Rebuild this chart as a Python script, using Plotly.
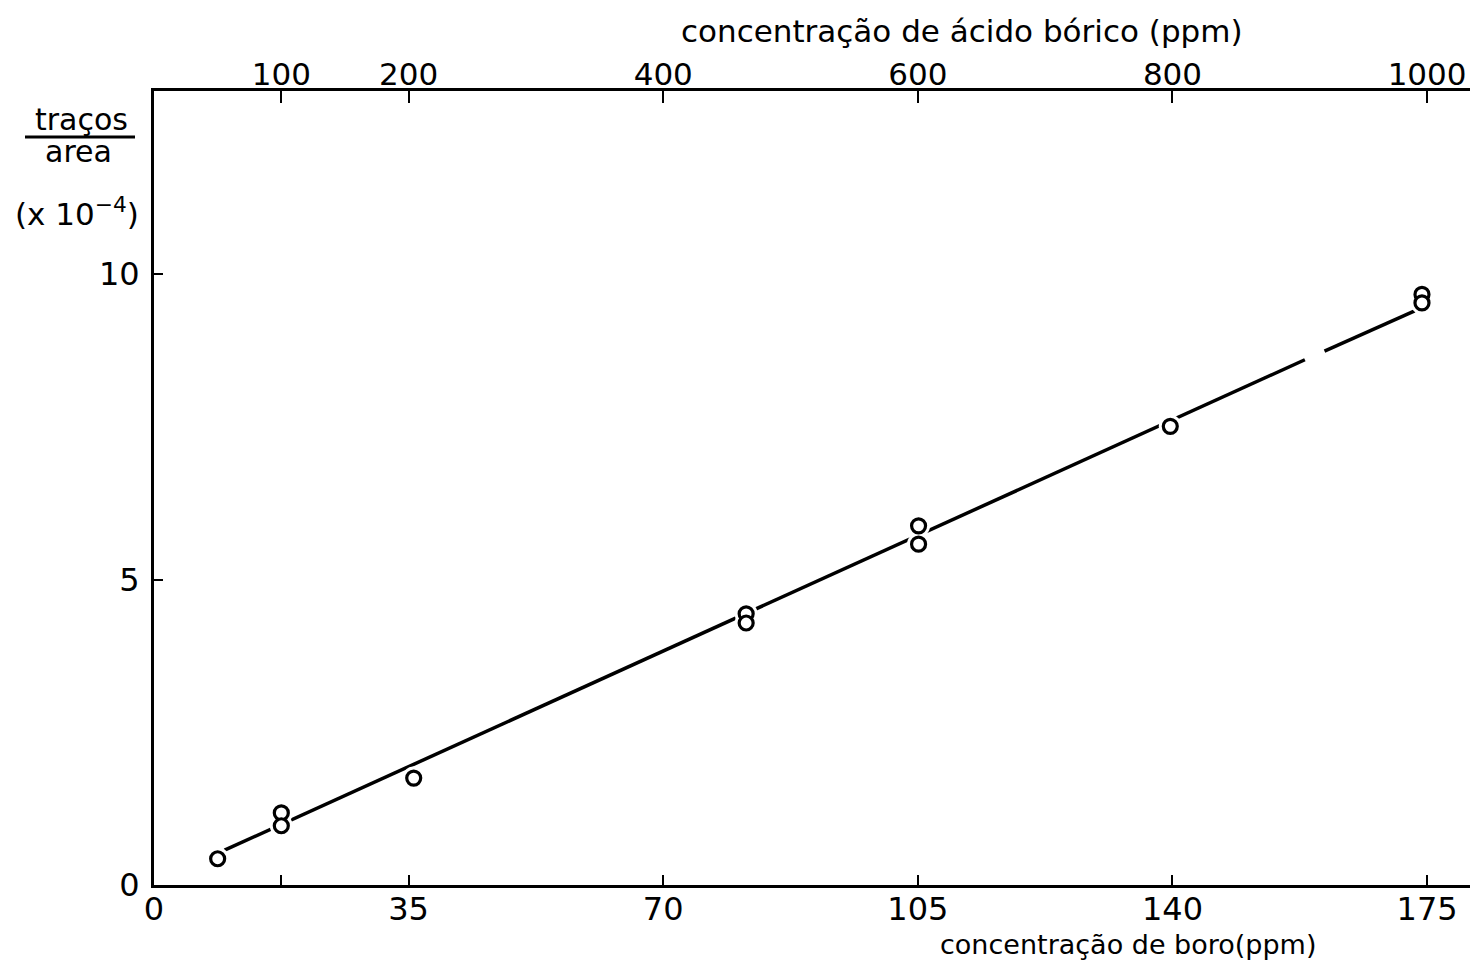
import plotly.graph_objects as go

# ---- data ----
boro_ppm = [8.75, 17.5, 17.5, 35.7, 81.4, 81.4, 105.1, 105.1, 139.7, 174.3, 174.3]
tracos_area = [0.43, 1.18, 0.97, 1.75, 4.44, 4.29, 5.88, 5.58, 7.51, 9.67, 9.53]

fit_x = [9.7, 158.2, None, 160.9, 173.3]
fit_y = [0.57, 8.60, None, 8.74, 9.40]

x_ticks = [0, 35, 70, 105, 140, 175]
x_ticklabels = ["0", "35", "70", "105", "140", "175"]
x_minor_ticks = [17.5]
acid_ticks = [100, 200, 400, 600, 800, 1000]
acid_ticklabels = ["100", "200", "400", "600", "800", "1000"]
y_ticks = [0, 5, 10]
y_ticklabels = ["0", "5", "10"]

X_MAX = 182.0
ACID_PER_BORO = 1000 / 175
Y_MAX = 13.0

# ---- layout geometry (page pixels; the page body adds an 8px offset) ----
OFF = 8
PAGE_W, PAGE_H = 1478, 968
W, H = PAGE_W - OFF, PAGE_H - OFF
L, R, T, B = 154, 1478, 91, 885   # plot area in page pixels


def px_x(p):
    return (p - L) / (R - L)


def px_y(p):
    return (B - p) / (B - T)


FONT = "DejaVu Sans"

fig = go.Figure()

fig.add_trace(go.Scatter(
    x=fit_x, y=fit_y, mode="lines",
    line=dict(color="black", width=3.5),
    connectgaps=False, showlegend=False, hoverinfo="skip",
))
# white halo so the line breaks around the circles
fig.add_trace(go.Scatter(
    x=boro_ppm, y=tracos_area, mode="markers",
    marker=dict(size=23, color="white", line=dict(width=0)),
    showlegend=False, hoverinfo="skip",
))
fig.add_trace(go.Scatter(
    x=boro_ppm, y=tracos_area, mode="markers",
    marker=dict(size=14, color="white", symbol="circle",
                line=dict(color="black", width=3.2)),
    showlegend=False,
))
# invisible trace to activate the top axis
fig.add_trace(go.Scatter(
    x=[acid_ticks[0]], y=[None], xaxis="x2", mode="markers",
    marker=dict(opacity=0), showlegend=False, hoverinfo="skip",
))

fig.update_layout(
    width=W, height=H,
    margin=dict(l=L - OFF, r=PAGE_W - R, t=T - OFF, b=PAGE_H - B, pad=0),
    plot_bgcolor="white", paper_bgcolor="white",
    font=dict(family=FONT, color="black", size=28),
    xaxis=dict(
        range=[0, X_MAX], showgrid=False, zeroline=False,
        showline=True, linecolor="black", linewidth=3,
        ticks="inside", ticklen=10, tickwidth=2, tickcolor="black",
        tickvals=x_ticks, ticktext=x_ticklabels,
        tickfont=dict(size=32, family=FONT),
        ticklabelstandoff=-6,
        minor=dict(tickvals=x_minor_ticks, ticks="inside", ticklen=10,
                   tickwidth=2, tickcolor="black", showgrid=False),
    ),
    xaxis2=dict(
        range=[0, X_MAX * ACID_PER_BORO], overlaying="x", side="top",
        anchor="y", showgrid=False, zeroline=False,
        showline=True, linecolor="black", linewidth=3,
        ticks="inside", ticklen=12, tickwidth=2, tickcolor="black",
        tickvals=acid_ticks, ticktext=acid_ticklabels,
        tickfont=dict(size=31, family=FONT),
        ticklabelstandoff=-9,
    ),
    yaxis=dict(
        range=[0, Y_MAX], showgrid=False, zeroline=False,
        showline=True, linecolor="black", linewidth=3,
        ticks="inside", ticklen=9, tickwidth=2, tickcolor="black",
        tickvals=y_ticks, ticktext=y_ticklabels,
        tickfont=dict(size=32, family=FONT),
        ticklabelstandoff=5,
    ),
)

annotations = [
    dict(text="concentração de ácido bórico (ppm)", x=px_x(962), y=px_y(31),
         font=dict(size=31)),
    dict(text="concentração de boro(ppm)", x=px_x(1128), y=px_y(945),
         font=dict(size=27)),
    dict(text="traços", x=px_x(81), y=px_y(119), font=dict(size=30)),
    dict(text="area", x=px_x(78), y=px_y(152), font=dict(size=30)),
    dict(text="(x 10<sup>−4</sup>)", x=px_x(77), y=px_y(212), font=dict(size=31)),
]
for a in annotations:
    a.update(xref="paper", yref="paper", showarrow=False,
             xanchor="center", yanchor="middle")
fig.update_layout(annotations=annotations)

fig.add_shape(type="line", xref="paper", yref="paper",
              x0=px_x(25), x1=px_x(135), y0=px_y(137), y1=px_y(137),
              line=dict(color="black", width=3))

fig.write_html("out.html")
